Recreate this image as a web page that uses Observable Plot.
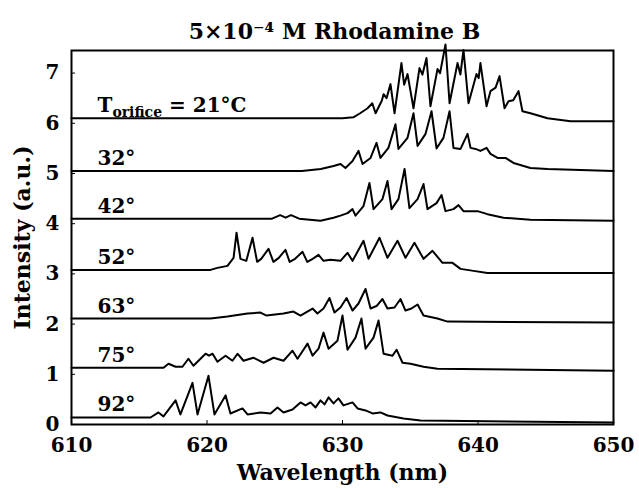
<!DOCTYPE html>
<html>
<head>
<meta charset="utf-8">
<script src="https://cdn.jsdelivr.net/npm/d3@7"></script>
<script src="https://cdn.jsdelivr.net/npm/@observablehq/plot@0.6"></script>
<style>
  body { margin: 0; background: #fff; }
</style>
</head>
<body>
<div id="chart"></div>
<script>
// Series labels (orifice temperatures)
const seriesLabels = ["T_orifice = 21°C", "32°", "42°", "52°", "63°", "75°", "92°"];
const titleText = "5×10⁻⁴ M Rhodamine B";
const xTicks = [610, 620, 630, 640, 650];
const yTicks = [0, 1, 2, 3, 4, 5, 6, 7];

// 21 °C
const wl21 = [610, 630.0, 630.8, 631.3, 631.85, 632.2, 632.44, 632.9, 633.03, 633.25, 633.54, 633.84, 634.35, 634.55, 634.8, 635.24, 635.68, 635.9, 636.2, 636.49, 637.01, 637.2, 637.6, 637.9, 638.49, 638.7, 638.93, 639.3, 639.89, 640.05, 640.18, 640.63, 640.92, 641.3, 641.59, 641.96, 642.25, 642.6, 642.99, 643.28, 643.87, 645.13, 646.83, 650];
const int21 = [6.10, 6.10, 6.12, 6.20, 6.30, 6.40, 6.20, 6.45, 6.58, 6.50, 6.78, 6.20, 7.20, 6.77, 6.98, 6.30, 7.10, 6.97, 7.30, 6.34, 7.08, 7.00, 7.57, 6.40, 7.20, 6.97, 7.46, 6.40, 6.98, 6.90, 7.20, 6.34, 6.64, 6.71, 6.94, 6.30, 6.44, 6.46, 6.64, 6.24, 6.20, 6.10, 6.04, 6.04];

// 32 °C
const wl32 = [610, 627, 628.4, 629.34, 629.85, 630.22, 630.74, 631.18, 631.48, 632.07, 632.51, 632.8, 633.39, 633.91, 634.13, 634.8, 635.24, 635.54, 636.13, 636.57, 636.94, 637.45, 637.9, 638.19, 638.71, 639.23, 639.45, 639.82, 640.18, 640.63, 640.92, 641.44, 642.03, 642.62, 643.87, 645.13, 650];
const int32 = [5.05, 5.05, 5.09, 5.15, 5.19, 5.11, 5.25, 5.45, 5.19, 5.31, 5.61, 5.31, 5.51, 5.98, 5.49, 5.71, 6.20, 5.55, 5.79, 6.24, 5.50, 5.71, 6.24, 5.51, 5.49, 5.79, 5.51, 5.49, 5.45, 5.51, 5.39, 5.31, 5.31, 5.21, 5.11, 5.09, 5.05];

// 42 °C
const wl42 = [610, 624.8, 625.4, 625.8, 626.2, 626.8, 628.38, 629.34, 629.85, 630.37, 630.74, 630.96, 631.55, 631.99, 632.29, 632.95, 633.32, 633.62, 634.13, 634.58, 634.94, 635.54, 635.98, 636.27, 636.94, 637.31, 637.6, 638.19, 638.56, 638.93, 639.96, 640.7, 641.88, 643.87, 650];
const int42 = [4.10, 4.10, 4.17, 4.12, 4.17, 4.10, 4.06, 4.12, 4.16, 4.21, 4.29, 4.16, 4.35, 4.81, 4.29, 4.49, 4.85, 4.29, 4.49, 5.09, 4.31, 4.49, 4.79, 4.29, 4.41, 4.57, 4.25, 4.29, 4.37, 4.25, 4.25, 4.19, 4.12, 4.08, 4.06];

// 52 °C
const wl52 = [610, 620.26, 620.77, 621.51, 621.96, 622.18, 622.47, 622.9, 623.36, 623.7, 624.0, 624.54, 624.9, 625.3, 625.79, 626.1, 626.5, 627.05, 627.4, 627.8, 628.23, 628.6, 629.11, 629.85, 630.37, 630.74, 631.55, 631.92, 632.73, 633.32, 634.06, 634.65, 635.31, 635.98, 636.64, 637.38, 638.12, 638.71, 639.67, 640.7, 650];
const int52 = [3.08, 3.08, 3.12, 3.16, 3.32, 3.82, 3.30, 3.26, 3.72, 3.24, 3.30, 3.50, 3.24, 3.32, 3.48, 3.24, 3.30, 3.44, 3.24, 3.30, 3.38, 3.26, 3.28, 3.26, 3.42, 3.26, 3.66, 3.30, 3.72, 3.32, 3.66, 3.32, 3.62, 3.30, 3.46, 3.22, 3.22, 3.10, 3.06, 3.02, 3.02];

// 63 °C
const wl63 = [610, 620.26, 621.51, 622.99, 623.95, 624.39, 625.65, 626.38, 626.9, 627.79, 628.15, 628.6, 629.04, 629.41, 629.85, 630.3, 630.74, 631.18, 631.7, 632.07, 632.51, 632.95, 633.32, 633.84, 634.28, 634.65, 635.09, 635.54, 635.98, 637.01, 637.75, 650];
const int63 = [2.11, 2.11, 2.15, 2.21, 2.23, 2.17, 2.21, 2.25, 2.17, 2.31, 2.21, 2.31, 2.52, 2.23, 2.33, 2.52, 2.27, 2.41, 2.70, 2.31, 2.36, 2.50, 2.31, 2.33, 2.50, 2.27, 2.31, 2.39, 2.17, 2.11, 2.05, 2.03];

// 75 °C
const wl75 = [610, 616.79, 617.16, 617.68, 618.19, 618.63, 619.0, 619.52, 619.89, 620.15, 620.41, 620.77, 621.37, 621.88, 622.25, 622.69, 623.43, 624.17, 624.91, 625.65, 626.31, 626.68, 627.42, 627.79, 628.23, 628.6, 628.97, 629.63, 630.0, 630.37, 630.96, 631.4, 631.7, 632.29, 632.66, 633.03, 633.69, 633.99, 634.43, 635.02, 635.98, 637.01, 650];
const int75 = [1.13, 1.13, 1.21, 1.15, 1.15, 1.31, 1.17, 1.31, 1.41, 1.37, 1.41, 1.25, 1.37, 1.27, 1.41, 1.27, 1.33, 1.23, 1.33, 1.27, 1.47, 1.31, 1.61, 1.37, 1.51, 1.83, 1.51, 1.67, 2.17, 1.49, 1.73, 2.11, 1.51, 1.73, 2.07, 1.41, 1.37, 1.49, 1.23, 1.21, 1.15, 1.11, 1.07];

// 92 °C
const wl92 = [610, 615.83, 616.42, 616.79, 617.68, 618.04, 618.93, 619.3, 620.11, 620.55, 621.37, 621.73, 622.62, 622.99, 623.95, 624.69, 625.2, 625.65, 626.31, 626.9, 627.27, 627.64, 628.01, 628.38, 628.67, 628.97, 629.34, 629.7, 630.07, 630.74, 631.11, 631.7, 632.21, 632.8, 633.32, 634.5, 635.76, 650];
const int92 = [0.14, 0.14, 0.24, 0.16, 0.48, 0.20, 0.83, 0.20, 0.97, 0.20, 0.58, 0.22, 0.32, 0.20, 0.24, 0.22, 0.34, 0.24, 0.30, 0.44, 0.38, 0.44, 0.34, 0.48, 0.40, 0.54, 0.42, 0.52, 0.38, 0.44, 0.32, 0.28, 0.22, 0.24, 0.18, 0.12, 0.08, 0.04];

const wls = [wl21, wl32, wl42, wl52, wl63, wl75, wl92];
const ints = [int21, int32, int42, int52, int63, int75, int92];

const rows = [];
wls.forEach((w, s) => w.forEach((x, i) => rows.push({series: seriesLabels[s], wl: x, v: ints[s][i]})));
const labelRows = seriesLabels.map((lab, s) => ({label: lab, base: ints[s][0]}));

const font = "'DejaVu Serif', 'Liberation Serif', serif";

const plot = Plot.plot({
  width: 639,
  height: 488,
  marginLeft: 71,
  marginRight: 26,
  marginTop: 50,
  marginBottom: 64,
  style: {fontFamily: font, fontSize: "20px", fontWeight: "bold", color: "#000", background: "#fff", overflow: "visible"},
  x: {domain: [610, 650]},
  y: {domain: [0, 7.45]},
  marks: [
    Plot.axisX({ticks: xTicks, tickSize: 0, tickPadding: 13, label: "Wavelength (nm)", labelAnchor: "center", labelOffset: 55, labelArrow: false, fontSize: 20}),
    Plot.axisX({ticks: xTicks, tickSize: -4, tickFormat: () => "", label: null}),
    Plot.axisY({ticks: yTicks, tickSize: 0, tickPadding: 12, label: "Intensity (a.u.)", labelAnchor: "center", labelOffset: 57, labelArrow: false, fontSize: 20}),
    Plot.axisY({ticks: yTicks, tickSize: -4, tickFormat: () => "", label: null}),
    Plot.frame({stroke: "#000", strokeWidth: 2}),
    Plot.line(rows, {x: "wl", y: "v", z: "series", stroke: "#000", strokeWidth: 2, strokeLinejoin: "round", clip: false}),
    Plot.text(labelRows, {y: "base", text: "label", frameAnchor: "left", textAnchor: "start", lineAnchor: "bottom", dx: 26, dy: -6, fontSize: 20, fill: "#000"}),
    Plot.text([titleText], {text: d => d, frameAnchor: "top", lineAnchor: "bottom", dy: -12, dx: -8, fontSize: 22, fill: "#000"})
  ]
});

// Larger axis titles, subscript in "T_orifice"
plot.querySelectorAll("[aria-label$='axis label'] text").forEach(t => t.setAttribute("font-size", "22"));
plot.querySelectorAll("text").forEach(t => {
  if (t.textContent === "T_orifice = 21°C") {
    const ns = "http://www.w3.org/2000/svg";
    while (t.firstChild) t.removeChild(t.firstChild);
    const a = document.createElementNS(ns, "tspan"); a.textContent = "T";
    const b = document.createElementNS(ns, "tspan"); b.textContent = "orifice"; b.setAttribute("font-size", "14"); b.setAttribute("dy", "5");
    const c = document.createElementNS(ns, "tspan"); c.textContent = " = 21°C"; c.setAttribute("dy", "-5");
    t.append(a, b, c);
  }
});

document.getElementById("chart").appendChild(plot);
</script>
</body>
</html>
